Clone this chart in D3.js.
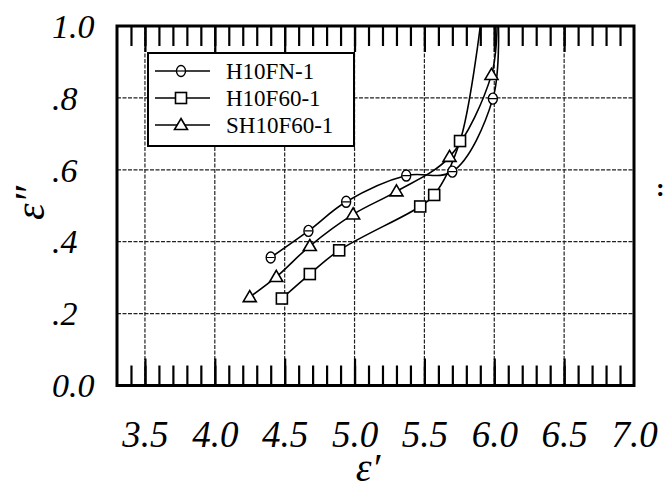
<!DOCTYPE html>
<html>
<head>
<meta charset="utf-8">
<script src="https://cdn.jsdelivr.net/npm/d3@7"></script>
<style>
  html, body { margin: 0; padding: 0; background: #fff; }
  svg { display: block; }
  text { font-family: "Liberation Serif", "Times New Roman", serif; fill: #000; }
</style>
</head>
<body>
<svg id="chart" width="664" height="491"></svg>
<script>
// ---- data ----
const seriesNames = ["H10FN-1", "H10F60-1", "SH10F60-1"];
const h10fnX  = [4.40, 4.67, 4.94, 5.37, 5.70, 5.99];
const h10fnY  = [0.356, 0.430, 0.511, 0.584, 0.595, 0.798];
const h10f60X = [4.48, 4.68, 4.89, 5.47, 5.57, 5.755];
const h10f60Y = [0.242, 0.310, 0.376, 0.498, 0.530, 0.680];
const sh10f60X = [4.25, 4.44, 4.68, 4.99, 5.30, 5.68, 5.98];
const sh10f60Y = [0.246, 0.302, 0.388, 0.476, 0.540, 0.636, 0.864];
// where each curve leaves the top of the frame (no marker)
const h10fnTail = [6.03, 1.0];
const h10f60Tail = [5.90, 1.0];
const sh10f60Tail = [6.02, 1.0];

const xTickValues = [3.5, 4.0, 4.5, 5.0, 5.5, 6.0, 6.5, 7.0];
const xTickLabels = ["3.5", "4.0", "4.5", "5.0", "5.5", "6.0", "6.5", "7.0"];
const yTickValues = [0.0, 0.2, 0.4, 0.6, 0.8, 1.0];
const yTickLabels = ["0.0", ".2", ".4", ".6", ".8", "1.0"];

// ---- layout ----
const L = 117, R = 634, T = 26, B = 385.5;
const svg = d3.select("#chart");
const x = d3.scaleLinear().domain([3.3, 7.0]).range([L, R]);
const y = d3.scaleLinear().domain([0, 1.0]).range([B, T]);

svg.append("clipPath").attr("id", "plotclip")
  .append("rect").attr("x", L).attr("y", T).attr("width", R - L).attr("height", B - T);

// grid lines
const grid = svg.append("g").attr("stroke", "#222").attr("stroke-width", 1.2)
  .attr("stroke-dasharray", "4,1.5");
grid.selectAll("line.v").data(xTickValues.filter(v => v < 7.0)).join("line")
  .attr("x1", d => x(d)).attr("x2", d => x(d)).attr("y1", T).attr("y2", B);
grid.selectAll("line.h").data(yTickValues.filter(v => v > 0 && v < 1)).join("line")
  .attr("y1", d => y(d)).attr("y2", d => y(d)).attr("x1", L).attr("x2", R);

// minor ticks (every 0.1) on top and bottom, drawn with d3 axes
const minorVals = d3.range(34, 70).map(d => d / 10);
const majorVals = xTickValues.filter(v => v < 7.0);
function tickAxis(gen, ypos, vals, size) {
  const g = svg.append("g").attr("transform", `translate(0,${ypos})`)
    .call(gen(x).tickValues(vals).tickSize(size).tickFormat(""));
  g.select(".domain").remove();
  g.selectAll(".tick line").attr("stroke", "#000").attr("stroke-width", 2.2);
  return g;
}
tickAxis(d3.axisBottom, T, minorVals, 20);
tickAxis(d3.axisTop, B, minorVals, 20);
tickAxis(d3.axisBottom, T, majorVals, 26);
tickAxis(d3.axisTop, B, majorVals, 27);

// x tick labels
const xLab = svg.append("g").attr("transform", `translate(0,${B})`)
  .call(d3.axisBottom(x).tickValues(xTickValues).tickSize(0).tickPadding(35)
    .tickFormat((d, i) => xTickLabels[i]));
xLab.select(".domain").remove();
xLab.selectAll("text").style("font-size", "37px").style("font-style", "italic")
  .style("font-family", '"Liberation Serif", serif').attr("fill", "#000");

// y tick labels
const yLab = svg.append("g").attr("transform", `translate(${L},0)`)
  .call(d3.axisLeft(y).tickValues(yTickValues).tickSize(0)
    .tickFormat((d, i) => yTickLabels[i]));
yLab.select(".domain").remove();
yLab.selectAll("text").attr("x", 52 - L).attr("dy", "0.33em").attr("text-anchor", "start")
  .style("font-size", "34px").style("font-style", "italic")
  .style("font-family", '"Liberation Serif", serif').attr("fill", "#000");

// curves
const line = d3.line().x(d => x(d[0])).y(d => y(d[1])).curve(d3.curveCatmullRom.alpha(0.5));
const series = [
  { name: seriesNames[0], pts: h10fnX.map((v, i) => [v, h10fnY[i]]), tail: h10fnTail, marker: "circle" },
  { name: seriesNames[1], pts: h10f60X.map((v, i) => [v, h10f60Y[i]]), tail: h10f60Tail, marker: "square" },
  { name: seriesNames[2], pts: sh10f60X.map((v, i) => [v, sh10f60Y[i]]), tail: sh10f60Tail, marker: "triangle" }
];
const plot = svg.append("g").attr("clip-path", "url(#plotclip)");
series.forEach(s => {
  plot.append("path").attr("d", line(s.pts.concat([s.tail])))
    .attr("fill", "none").attr("stroke", "#000").attr("stroke-width", 1.6);
});

function drawMarker(g, type, cx, cy) {
  if (type === "circle") {
    g.append("ellipse").attr("cx", cx).attr("cy", cy).attr("rx", 4.5).attr("ry", 5.5)
      .attr("fill", "#fff").attr("stroke", "#000").attr("stroke-width", 1.4);
    g.append("line").attr("x1", cx - 4).attr("x2", cx + 4).attr("y1", cy).attr("y2", cy)
      .attr("stroke", "#000").attr("stroke-width", 1.2);
  } else if (type === "square") {
    g.append("rect").attr("x", cx - 5.5).attr("y", cy - 5.5).attr("width", 11).attr("height", 11)
      .attr("fill", "#fff").attr("stroke", "#000").attr("stroke-width", 1.6);
  } else {
    const s = 6.5;
    g.append("path").attr("d", `M${cx},${cy - s}L${cx + s},${cy + s * 0.7}L${cx - s},${cy + s * 0.7}Z`)
      .attr("fill", "#fff").attr("stroke", "#000").attr("stroke-width", 1.6);
  }
}
series.forEach(s => {
  const g = plot.append("g");
  s.pts.forEach(p => drawMarker(g, s.marker, x(p[0]), y(p[1])));
});

// legend
const lg = svg.append("g");
lg.append("rect").attr("x", 148).attr("y", 53).attr("width", 206).attr("height", 93)
  .attr("fill", "#fff").attr("stroke", "#000").attr("stroke-width", 2);
series.forEach((s, i) => {
  const ly = 71 + i * 27;
  lg.append("line").attr("x1", 155).attr("x2", 210).attr("y1", ly).attr("y2", ly)
    .attr("stroke", "#000").attr("stroke-width", 1.6);
  drawMarker(lg, s.marker, 181, ly);
  lg.append("text").attr("x", 226).attr("y", ly + 8).style("font-size", "23px").text(s.name);
});

// frame
svg.append("rect").attr("x", L).attr("y", T).attr("width", R - L).attr("height", B - T)
  .attr("fill", "none").attr("stroke", "#000").attr("stroke-width", 3);

// axis titles
svg.append("text").attr("x", 368).attr("y", 481).attr("text-anchor", "middle")
  .style("font-size", "40px").style("font-style", "italic").text("\u03B5\u2032");
svg.append("text").attr("transform", "translate(44,203) rotate(-90)").attr("text-anchor", "middle")
  .style("font-size", "42px").style("font-style", "italic").text("\u03B5\u2033");

// stray mark at right edge of the figure
svg.append("text").attr("x", 656).attr("y", 196).style("font-size", "26px")
  .style("font-weight", "bold").text(":");
</script>
</body>
</html>
